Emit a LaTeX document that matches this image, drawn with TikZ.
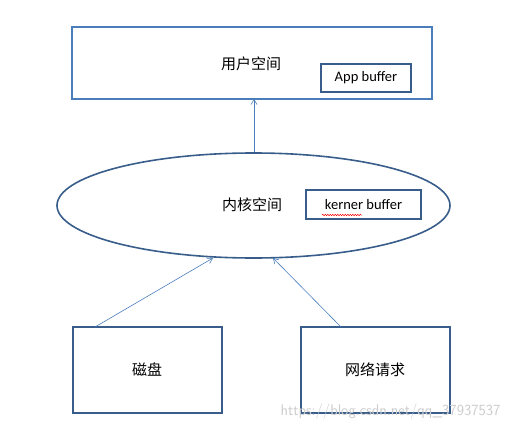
\documentclass[tikz,border=0pt]{standalone}
\usepackage{fontspec}
\setmainfont{Carlito}
\newfontfamily\cjk{Noto Sans CJK SC}
\usetikzlibrary{shapes.geometric,arrows.meta,decorations.pathmorphing}
\definecolor{lightb}{HTML}{4A7EBB}
\definecolor{darkb}{HTML}{385D8A}
\tikzset{
  box/.style={draw=darkb, line width=1.6pt, minimum width=#1, inner sep=0pt},
  arr/.style={draw=lightb, line width=0.6pt, -{Straight Barb[length=5pt,width=6pt]}},
  cn/.style={font=\cjk\fontsize{15}{17}\selectfont},
  en/.style={font=\fontsize{14.5}{16}\selectfont}
}
\begin{document}
\begin{tikzpicture}[x=1pt,y=-1pt]
\useasboundingbox (0,0) rectangle (512,431);
% top box
\node[draw=lightb, line width=1.6pt, minimum width=360pt, minimum height=72pt, inner sep=0pt] (user) at (252,63) {};
\node[cn] (usertxt) at (251,64) {用户空间};
\node[box=90pt, minimum height=28pt, en] (app) at (366,78) {App buffer};
% ellipse
\node[ellipse, draw=darkb, line width=1.6pt, minimum width=393pt, minimum height=105pt, inner sep=0pt] (kern) at (253.5,205.5) {};
\node[cn] (kerntxt) at (252,205) {内核空间};
\node[box=115pt, minimum height=29pt, en] (kbuf) at (363.5,204.5) {kerner buffer};
\draw[red, line width=0.5pt, decorate, decoration={snake, amplitude=0.7pt, segment length=2.5pt}] (322,215) -- (362,215);
% bottom boxes
\node[box=149pt, minimum height=86pt] (disk) at (147.5,370) {};
\node[cn] (disktxt) at (147,370) {磁盘};
\node[box=149pt, minimum height=86pt] (net) at (375.5,370) {};
\node[cn] (nettxt) at (375,370) {网络请求};
% connectors
\coordinate (kt) at (254,152);
\coordinate (ub) at (254,99);
\draw[arr] (kt) -- (ub);
\coordinate (d1) at (95,327);
\coordinate (k1) at (213,258);
\draw[arr] (d1) -- (k1);
\coordinate (n1) at (341,327);
\coordinate (k2) at (273,258);
\draw[arr] (n1) -- (k2);
% watermark
\node[text=black!20, font=\fontsize{15.5}{17}\selectfont\sffamily, anchor=east] (wm) at (504,412) {https://blog.csdn.net/qq\_37937537};
\end{tikzpicture}
\end{document}
